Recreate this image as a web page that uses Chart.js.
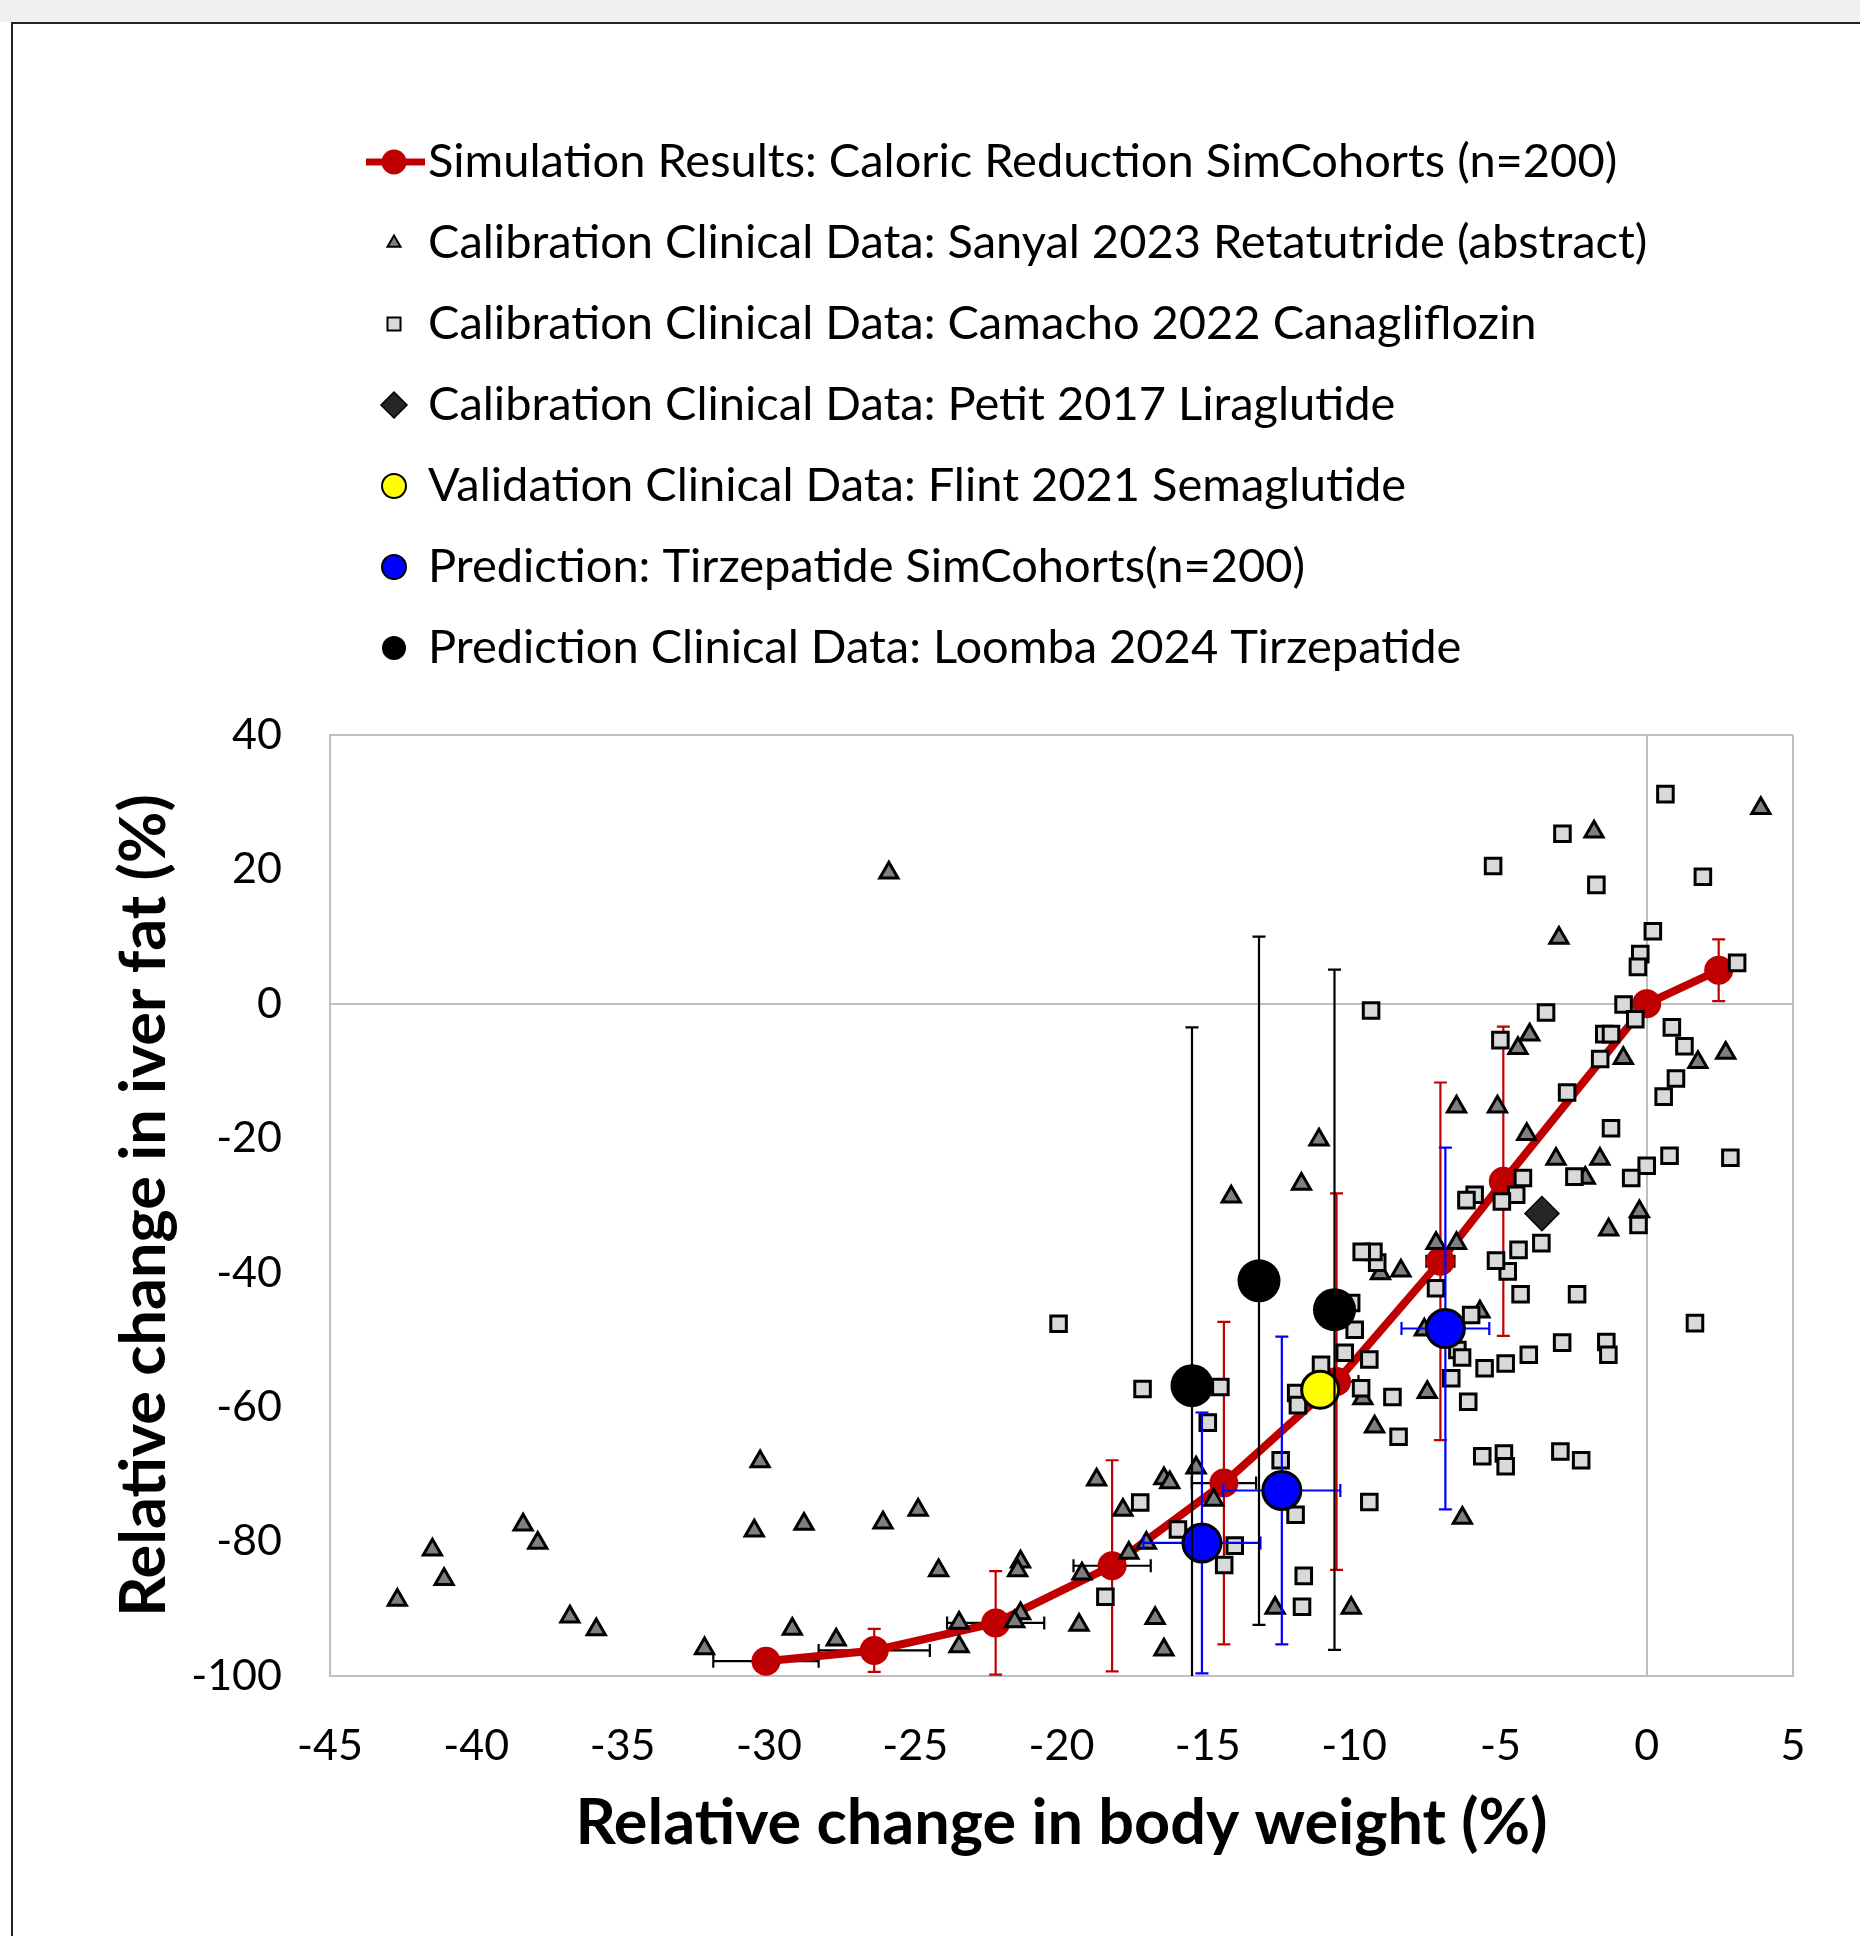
<!DOCTYPE html>
<html>
<head>
<meta charset="utf-8">
<script src="https://cdn.jsdelivr.net/npm/chart.js@4"></script>
<style>
  html, body { margin: 0; padding: 0; background: #fff; }
  #band { position: absolute; left: 0; top: 0; width: 1860px; height: 22px; background: #f0f0f0; }
  #frame { position: absolute; left: 11px; top: 22px; width: 1849px; height: 1914px;
           border-top: 2px solid #222; border-left: 2px solid #222; box-sizing: border-box; }
  #wrap { position: absolute; left: 0; top: 0; width: 1860px; height: 1936px; }
</style>
</head>
<body>
<div id="band"></div>
<div id="frame"></div>
<div id="wrap"><canvas id="chart" width="1860" height="1936"></canvas></div>
<script>
// series names (legend order)
const seriesNames = [
  'Simulation Results: Caloric Reduction SimCohorts (n=200)',
  'Calibration Clinical Data: Sanyal 2023 Retatutride (abstract)',
  'Calibration Clinical Data: Camacho 2022 Canagliflozin',
  'Calibration Clinical Data: Petit 2017 Liraglutide',
  'Validation Clinical Data: Flint 2021 Semaglutide',
  'Prediction: Tirzepatide SimCohorts(n=200)',
  'Prediction Clinical Data: Loomba 2024 Tirzepatide'
];

// simulation (red line) with error bars
const simX    = [-30.1, -26.4, -22.25, -18.27, -14.45, -10.6, -7.05, -4.9, 0, 2.46];
const simY    = [-97.8, -96.2, -92.1, -83.6, -71.3, -56.2, -38.3, -26.4, 0, 5.0];
const simXErr = [1.8, 1.9, 1.66, 1.32, 1.1, 0.75, 0.48, 0, 0, 0];
const simYErr = [1.5, 3.2, 7.7, 15.7, 24, 28, 26.6, 23, 0, 4.6];

// Sanyal 2023 (triangles)
const sanyalPts = [
  [-42.7,-88.7],[-41.5,-81.2],[-41.1,-85.6],[-38.4,-77.5],[-37.9,-80.2],[-36.8,-91.2],
  [-35.9,-93.1],[-32.2,-95.9],[-30.3,-68.1],[-30.5,-78.4],[-28.8,-77.4],[-29.2,-93.0],
  [-27.7,-94.6],[-26.1,-77.2],[-25.9,19.5],[-24.9,-75.3],[-24.2,-84.3],[-23.5,-92.1],
  [-23.5,-95.6],[-21.4,-83.0],[-21.5,-84.3],[-21.4,-90.7],[-21.6,-91.9],[-19.4,-92.4],
  [-19.3,-84.8],[-18.8,-70.8],[-17.9,-75.3],[-17.7,-81.7],[-17.1,-80.2],[-16.8,-91.4],
  [-16.5,-96.1],[-16.5,-70.6],[-16.3,-71.2],[-15.4,-69.0],[-14.8,-73.8],[-14.2,-28.7],
  [-12.7,-89.9],[-11.8,-26.8],[-11.2,-20.2],[-10.1,-89.9],[-9.7,-58.7],[-9.3,-62.9],
  [-9.1,-40.1],[-8.4,-39.7],[-7.6,-48.5],[-7.5,-57.8],[-7.2,-35.6],[-6.5,-35.6],
  [-6.5,-15.3],[-6.3,-76.5],[-5.7,-45.8],[-5.1,-15.3],[-4.4,-6.6],[-4.1,-19.4],
  [-4.0,-4.6],[-3.1,-23.1],[-3.0,9.8],[-2.1,-25.9],[-1.8,25.6],[-1.6,-23.1],
  [-1.3,-33.6],[-0.8,-8.1],[-0.25,-30.9],[1.75,-8.7],[2.7,-7.3],[3.9,29.1]
];

// Camacho 2022 (squares)
const camachoPts = [
  [0.64,31.2],[-2.88,25.3],[-1.72,17.7],[1.92,18.9],[-5.25,20.5],[0.21,10.8],[-0.22,7.4],
  [-0.30,5.5],[3.09,6.1],[-0.79,-0.1],[-0.39,-2.3],[-3.44,-1.3],[-9.42,-1.0],[-1.45,-4.5],
  [-1.22,-4.5],[0.86,-3.5],[-5.0,-5.4],[1.29,-6.3],[-1.59,-8.2],[1.0,-11.1],[0.58,-13.8],
  [-2.72,-13.2],[-1.22,-18.5],[0.78,-22.6],[2.86,-22.9],[0,-24.1],[-0.53,-25.9],[-2.47,-25.7],
  [-4.23,-25.9],[-4.46,-28.4],[-4.95,-29.4],[-5.88,-28.4],[-6.16,-29.2],[-0.28,-32.9],
  [-3.60,-35.6],[-4.38,-36.6],[-4.75,-39.8],[-5.15,-38.2],[-4.31,-43.2],[-2.38,-43.2],
  [-6.0,-46.3],[1.65,-47.5],[-2.89,-50.4],[-1.38,-50.3],[-1.31,-52.2],[-4.03,-52.2],
  [-4.82,-53.5],[-5.54,-54.2],[-6.47,-51.5],[-6.31,-52.6],[-6.68,-55.7],[-7.2,-42.3],
  [-6.10,-59.2],[-5.62,-67.3],[-4.88,-66.9],[-4.82,-68.8],[-2.95,-66.6],[-2.24,-67.9],
  [-8.69,-58.5],[-8.48,-64.4],[-9.48,-74.1],[-9.76,-57.2],[-9.48,-52.9],[-10.32,-51.9],
  [-9.98,-48.5],[-10.1,-44.5],[-9.21,-38.5],[-9.34,-36.9],[-9.74,-36.9],[-11.13,-53.7],
  [-11.98,-57.9],[-11.92,-59.7],[-12.51,-67.9],[-12.0,-76.0],[-11.72,-85.1],[-11.78,-89.7],
  [-20.1,-47.6],[-17.23,-57.3],[-14.57,-57.0],[-15.0,-62.3],[-17.31,-74.2],[-16.02,-78.2],
  [-14.08,-80.6],[-14.44,-83.5],[-18.5,-88.2]
];

// Petit 2017 (diamond), Flint 2021 (yellow)
const petitPts = [[-3.58,-31.2]];
const flintPts = [[-11.16,-57.4]];

// Tirzepatide prediction (blue) with error bars
const tirzX    = [-15.2, -12.47, -6.88];
const tirzY    = [-80.2, -72.4, -48.3];
const tirzXErr = [2.0, 2.0, 1.5];
const tirzYErr = [19.4, 22.9, 26.9];

// Loomba 2024 (black) with error bars
const loombaX    = [-15.54, -13.25, -10.67];
const loombaY    = [-56.8, -41.2, -45.5];
const loombaYErr = [53.3, 51.2, 50.6];

// axis ranges / tick steps
const xRange = [-45, 5], xStep = 5;
const yRange = [-100, 40], yStep = 20;

const FONT = 'Lato, "Noto Sans", sans-serif';
Chart.defaults.font.family = FONT;

function toXY(xs, ys) { return xs.map((x, i) => ({ x: x, y: ys[i] })); }
function pairs(arr) { return arr.map(p => ({ x: p[0], y: p[1] })); }

// error bars, drawn just before each dataset's own marks
const errorBars = {
  id: 'errorBars',
  beforeDatasetDraw(chart, args) {
    const ds = chart.data.datasets[args.index];
    if (!ds.xErr && !ds.yErr) return;
    const xs = chart.scales.x, ys = chart.scales.y, a = chart.chartArea, ctx = chart.ctx;
    const cap = 6.5;
    ctx.save();
    ctx.beginPath();
    ctx.rect(a.left, a.top, a.right - a.left, a.bottom - a.top);
    ctx.clip();
    ctx.lineWidth = 2.2;
    ds.data.forEach((p, i) => {
      const px = xs.getPixelForValue(p.x), py = ys.getPixelForValue(p.y);
      const ye = ds.yErr ? ds.yErr[i] : 0;
      const xe = ds.xErr ? ds.xErr[i] : 0;
      if (ye) {
        const t = ys.getPixelForValue(p.y + ye), b = ys.getPixelForValue(p.y - ye);
        ctx.strokeStyle = ds.yErrColor;
        ctx.beginPath();
        ctx.moveTo(px, t); ctx.lineTo(px, b);
        ctx.moveTo(px - cap, t); ctx.lineTo(px + cap, t);
        ctx.moveTo(px - cap, b); ctx.lineTo(px + cap, b);
        ctx.stroke();
      }
      if (xe) {
        const l = xs.getPixelForValue(p.x - xe), r = xs.getPixelForValue(p.x + xe);
        ctx.strokeStyle = ds.xErrColor;
        ctx.beginPath();
        ctx.moveTo(l, py); ctx.lineTo(r, py);
        ctx.moveTo(l, py - cap); ctx.lineTo(l, py + cap);
        ctx.moveTo(r, py - cap); ctx.lineTo(r, py + cap);
        ctx.stroke();
      }
    });
    ctx.restore();
  }
};

// vertical legend above the plot
const legendBox = { markX: 394, textX: 428, top: 162, step: 81, font: '47px ' + FONT };

function legendMarker(ctx, ds, x, y) {
  ctx.save();
  ctx.fillStyle = ds.pointBackgroundColor;
  ctx.strokeStyle = ds.pointBorderColor;
  ctx.lineWidth = ds.pointBorderWidth;
  if (ds.showLine) {
    ctx.strokeStyle = ds.borderColor;
    ctx.lineWidth = 7;
    ctx.beginPath(); ctx.moveTo(x - 28, y); ctx.lineTo(x + 31, y); ctx.stroke();
    ctx.beginPath(); ctx.arc(x, y, 12.5, 0, Math.PI * 2); ctx.fill();
    ctx.restore();
    return;
  }
  ctx.lineWidth = Math.min(ds.pointBorderWidth, 2);
  ctx.beginPath();
  if (ds.pointStyle === 'triangle') {
    const r = 7.5;
    ctx.moveTo(x, y - r);
    ctx.lineTo(x + r * 0.866, y + r * 0.5);
    ctx.lineTo(x - r * 0.866, y + r * 0.5);
    ctx.closePath();
  } else if (ds.pointStyle === 'rect') {
    ctx.rect(x - 6.5, y - 6.5, 13, 13);
  } else if (ds.pointStyle === 'rectRot') {
    const r = 13;
    ctx.moveTo(x - r, y); ctx.lineTo(x, y - r); ctx.lineTo(x + r, y); ctx.lineTo(x, y + r);
    ctx.closePath();
  } else {
    ctx.arc(x, y, 12, 0, Math.PI * 2);
  }
  ctx.fill();
  if (ds.pointBorderWidth) ctx.stroke();
  ctx.restore();
}

const sideLegend = {
  id: 'sideLegend',
  afterDraw(chart) {
    const ctx = chart.ctx;
    ctx.save();
    ctx.font = legendBox.font;
    ctx.fillStyle = '#000';
    ctx.textBaseline = 'middle';
    ctx.textAlign = 'left';
    chart.data.datasets.forEach((ds, i) => {
      const y = legendBox.top + i * legendBox.step;
      legendMarker(ctx, ds, legendBox.markX, y);
      ctx.fillText(ds.label, legendBox.textX, y);
    });
    ctx.restore();
  }
};

function edgeGrid(range) {
  return ctx => {
    const v = ctx.tick ? ctx.tick.value : null;
    return (v === 0 || v === range[0] || v === range[1]) ? '#bfbfbf' : 'rgba(0,0,0,0)';
  };
}

const datasets = [
  {
    label: seriesNames[0], data: toXY(simX, simY), showLine: true, order: 7,
    borderColor: '#c00000', borderWidth: 8, pointStyle: 'circle', pointRadius: 14.5,
    pointBackgroundColor: '#c00000', pointBorderColor: '#c00000', pointBorderWidth: 0,
    xErr: simXErr, yErr: simYErr, xErrColor: '#000', yErrColor: '#c00000'
  },
  {
    label: seriesNames[1], data: pairs(sanyalPts), order: 6,
    pointStyle: 'triangle', pointRadius: 10.5,
    pointBackgroundColor: '#7f7f7f', pointBorderColor: '#000', pointBorderWidth: 3
  },
  {
    label: seriesNames[2], data: pairs(camachoPts), order: 5,
    pointStyle: 'rect', pointRadius: 11,
    pointBackgroundColor: '#d9d9d9', pointBorderColor: '#000', pointBorderWidth: 3
  },
  {
    label: seriesNames[3], data: pairs(petitPts), order: 4,
    pointStyle: 'rectRot', pointRadius: 17,
    pointBackgroundColor: '#262626', pointBorderColor: '#000', pointBorderWidth: 1.5
  },
  {
    label: seriesNames[4], data: pairs(flintPts), order: 3,
    pointStyle: 'circle', pointRadius: 18.5,
    pointBackgroundColor: '#ffff00', pointBorderColor: '#000', pointBorderWidth: 3
  },
  {
    label: seriesNames[5], data: toXY(tirzX, tirzY), order: 2,
    pointStyle: 'circle', pointRadius: 19,
    pointBackgroundColor: '#0000ff', pointBorderColor: '#000', pointBorderWidth: 3
    , xErr: tirzXErr, yErr: tirzYErr, xErrColor: '#0000ff', yErrColor: '#0000ff'
  },
  {
    label: seriesNames[6], data: toXY(loombaX, loombaY), order: 1,
    pointStyle: 'circle', pointRadius: 21.5,
    pointBackgroundColor: '#000', pointBorderColor: '#000', pointBorderWidth: 0,
    yErr: loombaYErr, yErrColor: '#000'
  }
];

new Chart(document.getElementById('chart'), {
  type: 'scatter',
  data: { datasets: datasets },
  options: {
    responsive: false,
    devicePixelRatio: 1,
    animation: false,
    events: [],
    layout: { padding: { left: 0, right: 67, top: 735, bottom: 0 } },
    plugins: { legend: { display: false }, tooltip: { enabled: false } },
    scales: {
      x: {
        type: 'linear', min: xRange[0], max: xRange[1],
        afterFit: s => { s.height = 260; },
        ticks: { stepSize: xStep, padding: 44, color: '#000', font: { size: 43 } },
        grid: { color: edgeGrid(xRange), lineWidth: 2, drawTicks: false },
        border: { color: '#bfbfbf', width: 2 },
        title: {
          display: true, text: 'Relative change in body weight (%)', color: '#000',
          font: { size: 63, weight: 'bold' }, padding: { top: 0, bottom: 75 }
        }
      },
      y: {
        type: 'linear', min: yRange[0], max: yRange[1],
        afterFit: s => { s.width = 330; },
        ticks: { stepSize: yStep, padding: 48, color: '#000', font: { size: 43 } },
        grid: { color: edgeGrid(yRange), lineWidth: 2, drawTicks: false },
        border: { color: '#bfbfbf', width: 2 },
        title: {
          display: true, text: 'Relative change in iver fat (%)', color: '#000',
          font: { size: 63, weight: 'bold' }, padding: { top: 107, bottom: 0 }
        }
      }
    }
  },
  plugins: [errorBars, sideLegend]
});
</script>
</body>
</html>
